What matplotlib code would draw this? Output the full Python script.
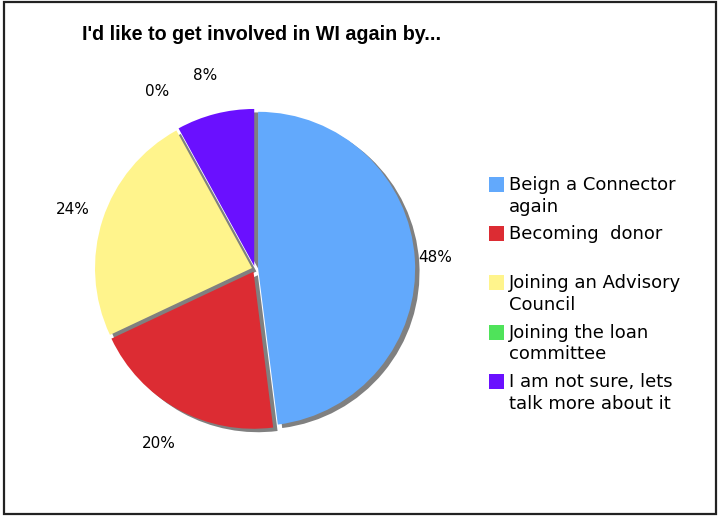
import matplotlib
matplotlib.use("Agg")
import matplotlib.pyplot as plt
from matplotlib.patches import Rectangle
import numpy as np

# Survey answers and their shares (percent)
categories = [
    "Beign a Connector\nagain",
    "Becoming  donor\n",
    "Joining an Advisory\nCouncil",
    "Joining the loan\ncommittee",
    "I am not sure, lets\ntalk more about it",
]
shares = [48, 20, 24, 0, 8]
colors = ["#62A9FC", "#DC2C33", "#FFF48C", "#4FE35A", "#6A10FF"]
title = "I'd like to get involved in WI again by..."

# radial position of each percentage label (in pie radii)
label_dist = [1.15, 1.27, 1.22, 1.29, 1.27]

fig = plt.figure(figsize=(7.18, 5.16), dpi=100)
fig.patch.set_facecolor("white")

ax = fig.add_axes([0.04875, 0.0523, 440 / 718, 440 / 516])
lim = 220 / 157
ax.axis("off")

explode = [0.02] * len(shares)

# drop shadow: same wedges in grey, shifted right and down
ax.pie(shares, colors=["#808080"] * len(shares), startangle=90,
       counterclock=False, explode=explode, center=(0.028, -0.022),
       wedgeprops=dict(linewidth=0))

wedges, _ = ax.pie(shares, colors=colors, startangle=90, counterclock=False,
                   explode=explode, wedgeprops=dict(linewidth=0))
ax.set_xlim(-lim, lim)
ax.set_ylim(-lim, lim)

for w, val, d in zip(wedges, shares, label_dist):
    mid = np.deg2rad(0.5 * (w.theta1 + w.theta2))
    ax.text(d * np.cos(mid), d * np.sin(mid), f"{val}%", ha="center",
            va="center", fontsize=11, color="black", fontfamily="DejaVu Sans")

W, H = 718, 516
fig.text(262 / W, 1 - 34 / H, title, ha="center", va="center",
         fontsize=14.2, fontweight="bold", fontfamily="Liberation Sans")

# legend: colour square beside each two-line label
x_box, x_txt = 489, 509
y0, step = 177, 49.2
for i, (lab, col) in enumerate(zip(categories, colors)):
    yt = y0 + i * step
    fig.patches.append(Rectangle((x_box / W, 1 - (yt + 15) / H), 15 / W, 15 / H,
                                 transform=fig.transFigure, facecolor=col,
                                 edgecolor="none"))
    fig.text(x_txt / W, 1 - (yt - 1) / H, lab, ha="left", va="top",
             fontsize=13, fontfamily="DejaVu Sans", linespacing=1.27)

# outer frame
fig.patches.append(Rectangle((4 / W, 2 / H), 712 / W, 512 / H,
                             transform=fig.transFigure, fill=False,
                             edgecolor="#222222", linewidth=1.6))

fig.savefig("out.png", dpi=100)
